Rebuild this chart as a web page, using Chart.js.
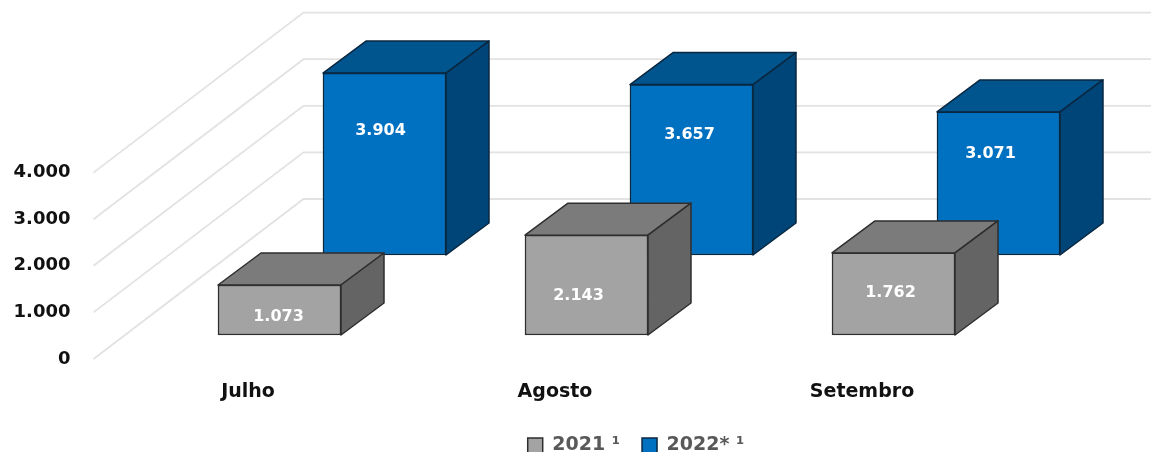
<!DOCTYPE html>
<html>
<head>
<meta charset="utf-8">
<style>html,body{margin:0;padding:0;background:#fff}canvas{display:block}</style>
<script src="https://cdn.jsdelivr.net/npm/chart.js@4"></script>
</head>
<body>
<canvas id="c" width="1151" height="452"></canvas>
<script>
const categories = ['Julho', 'Agosto', 'Setembro'];
const values2021 = [1073, 2143, 1762];
const values2022 = [3904, 3657, 3071];
const yTicksMax = 4000;

const fmt = v => String(v).replace(/\B(?=(\d{3})+$)/g, '.');
const FONT = '"DejaVu Sans"';
const DX = 43, DY = -32, WALL_DX = 210, WALL_DY = -160;

const extrude = {
  id: 'extrude',
  beforeDatasetsDraw(chart) {
    const { ctx, chartArea: a, scales: { y } } = chart;
    ctx.save();
    ctx.strokeStyle = '#e2e2e2';
    ctx.lineWidth = 1.8;
    for (let v = 0; v <= yTicksMax; v += 1000) {
      const py = y.getPixelForValue(v);
      ctx.beginPath();
      ctx.moveTo(a.left - 1, py);
      ctx.lineTo(a.left - 1 + WALL_DX, py + WALL_DY);
      ctx.lineTo(chart.width, py + WALL_DY);
      ctx.stroke();
    }
    ctx.restore();
  },
  beforeDatasetDraw(chart, args) {
    const { ctx } = chart;
    const ds = chart.data.datasets[args.index];
    ctx.save();
    ctx.strokeStyle = ds.borderColor;
    ctx.lineWidth = 1.5;
    ctx.lineJoin = 'round';
    args.meta.data.forEach(el => {
      const l = el.x - el.width / 2, r = el.x + el.width / 2, t = el.y, b = el.base;
      const face = (pts, fill) => {
        ctx.beginPath();
        pts.forEach((p, i) => i ? ctx.lineTo(p[0], p[1]) : ctx.moveTo(p[0], p[1]));
        ctx.closePath();
        ctx.fillStyle = fill;
        ctx.fill();
        ctx.stroke();
      };
      face([[l, t], [r, t], [r + DX, t + DY], [l + DX, t + DY]], ds.topColor);
      face([[r, t], [r + DX, t + DY], [r + DX, b + DY], [r, b]], ds.sideColor);
    });
    ctx.restore();
  },
  afterDatasetsDraw(chart) {
    const { ctx } = chart;
    ctx.save();
    ctx.font = 'bold 16px ' + FONT;
    ctx.fillStyle = '#ffffff';
    ctx.textAlign = 'center';
    ctx.textBaseline = 'middle';
    chart.data.datasets.forEach((ds, i) => {
      chart.getDatasetMeta(i).data.forEach((el, j) => {
        const h = el.base - el.y;
        ctx.fillText(fmt(ds.data[j].y), el.x + ds.labelDx[j], el.y + h * ds.labelAt[j]);
      });
    });
    ctx.restore();
  },
  afterLayout(chart) {
    const lg = chart.legend;
    const w = lg.right - lg.left;
    lg.left = 636 - w / 2;
    lg.right = lg.left + w;
    const h = lg.height;
    lg.top = 414;
    lg.bottom = lg.top + h;
    lg.adjustHitBoxes && lg.adjustHitBoxes();
  }
};

const toPoints = arr => arr.map((v, i) => ({ x: i, y: v }));

new Chart(document.getElementById('c'), {
  type: 'bar',
  data: {
    labels: categories,
    datasets: [
      {
        label: '2021 \u00B9',
        data: toPoints(values2021),
        xAxisID: 'xGray', yAxisID: 'yGray', clip: false,
        backgroundColor: '#a3a3a3', borderColor: '#2e2e2e', borderWidth: 1.5, borderSkipped: false,
        topColor: '#7b7b7b', sideColor: '#646464',
        labelAt: [0.64, 0.61, 0.49], labelDx: [-1, -8, -3]
      },
      {
        label: '2022* \u00B9',
        data: toPoints(values2022),
        xAxisID: 'xBlue', yAxisID: 'yBlue', clip: false,
        backgroundColor: '#0070c0', borderColor: '#0a2740', borderWidth: 1.5, borderSkipped: false,
        topColor: '#00558f', sideColor: '#004578',
        labelAt: [0.315, 0.295, 0.29], labelDx: [-4, -2, -8]
      }
    ]
  },
  options: {
    responsive: false,
    animation: false,
    layout: { padding: { top: 9.5, right: 135.5, left: 0, bottom: 0 } },
    datasets: { bar: { barThickness: 123, grouped: false } },
    scales: {
      x: {
        type: 'category', offset: true,
        grid: { display: false }, border: { display: false },
        ticks: { padding: 14, color: '#111', font: { family: FONT, weight: 'bold', size: 19 }, maxRotation: 0 },
        afterFit: s => { s.height = 452 - 359 - s.chart.legend.height; }
      },
      y: {
        type: 'linear', min: 0, max: 7500, position: 'left',
        grid: { display: false }, border: { display: false },
        afterFit: s => { s.width = 94.5; s.paddingTop = 0; s.paddingBottom = 0; },
        ticks: {
          stepSize: 500, padding: 16, color: '#111', autoSkip: false,
          font: { family: FONT, weight: 'bold', size: 18 },
          callback: v => (v <= yTicksMax && v % 1000 === 0) ? fmt(v) : ''
        }
      },
      xGray: { type: 'linear', display: false, offset: false, bounds: 'data', min: -0.6026, max: 2.3974 },
      xBlue: { type: 'linear', display: false, offset: false, bounds: 'data', min: -0.9446, max: 2.0554 },
      yGray: { type: 'linear', display: false, bounds: 'data', min: -515, max: 6985 },
      yBlue: { type: 'linear', display: false, bounds: 'data', min: -2232, max: 5268 }
    },
    plugins: {
      tooltip: { enabled: false },
      legend: {
        position: 'bottom',
        labels: {
          boxWidth: 15, boxHeight: 15, padding: 22, color: '#595959',
          font: { family: FONT, weight: 'bold', size: 19 }
        }
      }
    }
  },
  plugins: [extrude]
});
</script>
</body>
</html>
